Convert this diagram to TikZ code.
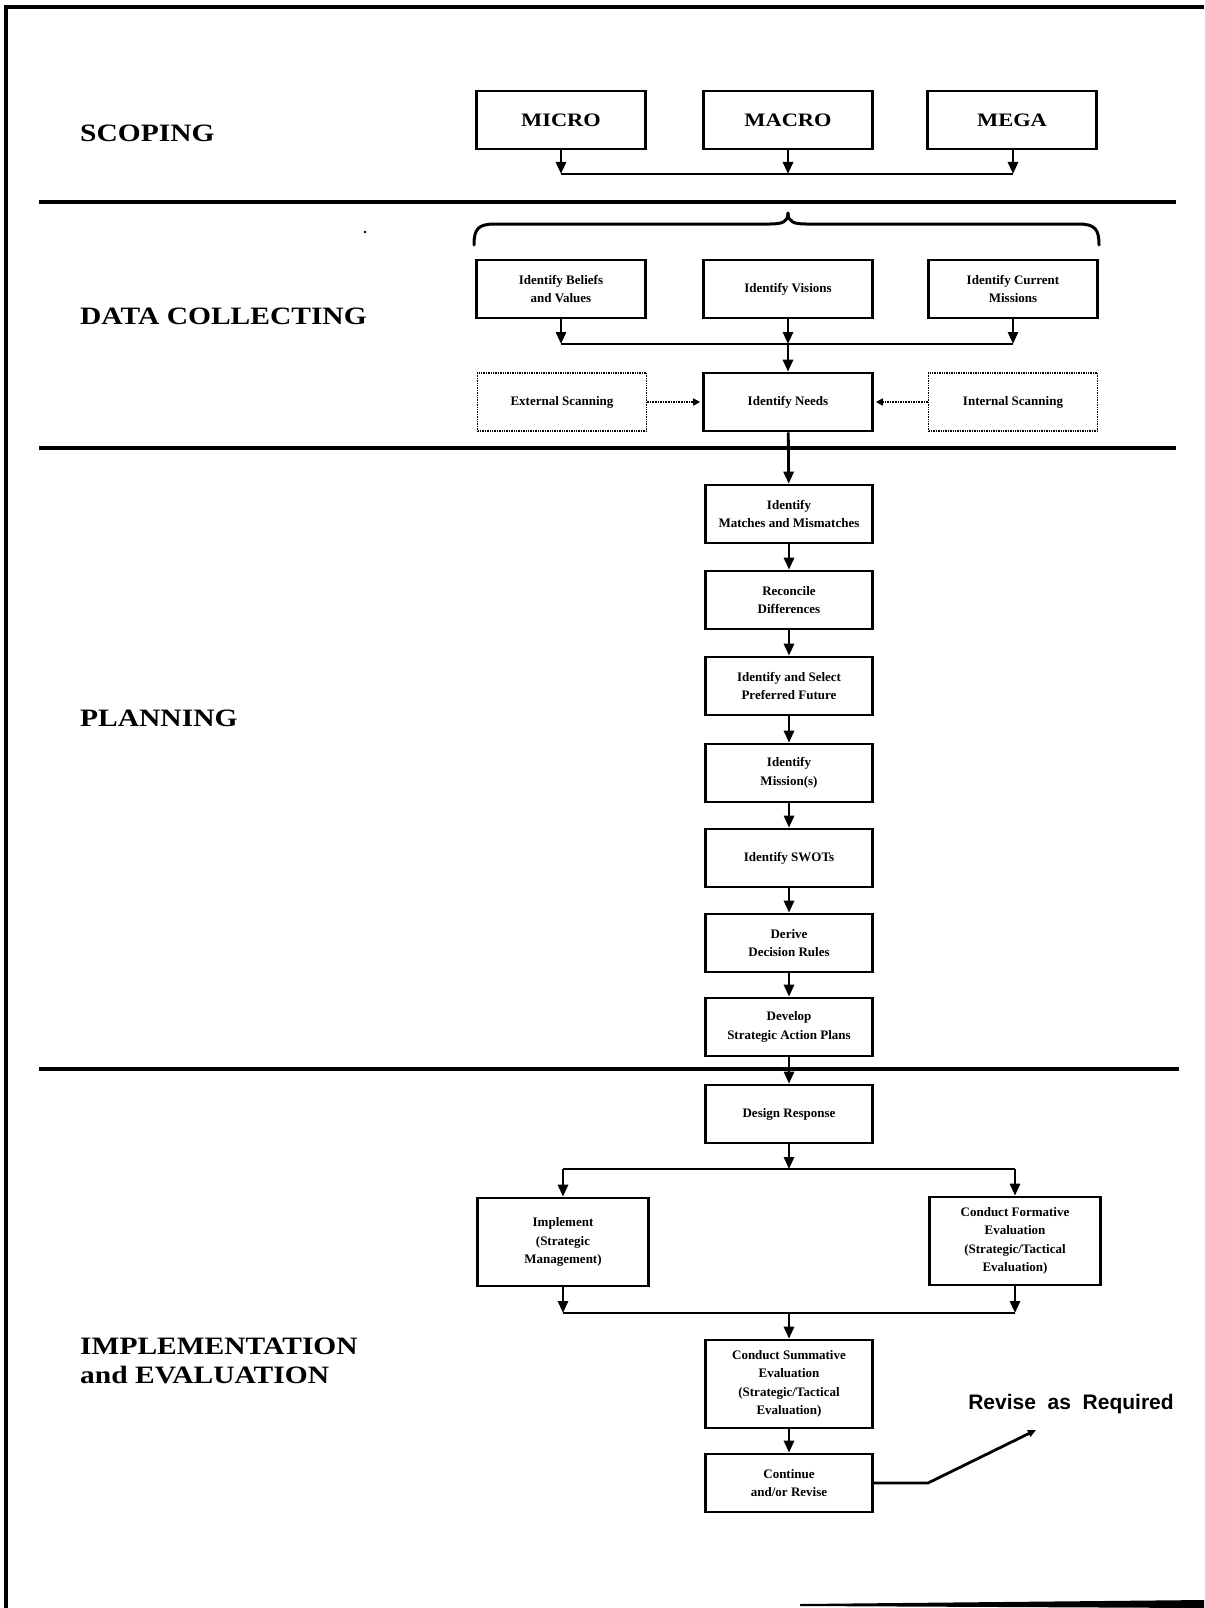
\documentclass[tikz,border=0pt]{standalone}
\usepackage{fontspec}
\newfontfamily\boxfont{Liberation Serif}
\newfontfamily\revfont{Liberation Sans}
\newfontfamily\phasefont{Liberation Serif}[FakeStretch=1.18]
\usetikzlibrary{arrows.meta}
\tikzset{
  box/.style={draw, line width=2.6pt, minimum width=169pt, minimum height=58pt, inner sep=2pt, align=center,
    font=\boxfont\bfseries\fontsize{13}{18.5}\selectfont},
  tallbox/.style={box, minimum height=88pt},
  scanbox/.style={box, line width=1.4pt, densely dotted},
  topbox/.style={box, font=\phasefont\bfseries\fontsize{19}{22}\selectfont},
  conn/.style={line width=2.8pt},
  arr/.style={conn, -{Triangle[width=10pt,length=12pt]}},
  dotarr/.style={line width=1.6pt, densely dotted, -{Triangle[width=7pt,length=7pt]}, shorten >=2pt},
  phase/.style={anchor=west, align=left, inner sep=0pt, font=\phasefont\bfseries\fontsize{25}{29.5}\selectfont},
  divider/.style={line width=3.2pt},
}
\begin{document}
\begin{tikzpicture}[x=1pt,y=-1pt]
\useasboundingbox (0,0) rectangle (1204,1608);
% frame
\draw[line width=3.5pt] (6,1608) -- (6,7) -- (1204,7);
\fill (800,1604) -- (1204,1600) -- (1204,1608) -- (800,1606) -- cycle;
% dividers
\draw[divider] (39,202) -- (1176,202);
\draw[divider] (39,448) -- (1176,448);
\draw[divider] (39,1069) -- (1179,1069);
% phase labels
\node[phase] (lscope) at (80,133) {SCOPING};
\node[phase] (ldata) at (80,316) {DATA COLLECTING};
\node[phase] (lplan) at (80,718) {PLANNING};
\node[phase] (limpl) at (80,1361) {IMPLEMENTATION\\and EVALUATION};
\fill (365,232) circle (1.3pt);
% scoping
\node[topbox] (micro) at (561,120) {MICRO};
\node[topbox] (macro) at (788,120) {MACRO};
\node[topbox] (mega) at (1012,120) {MEGA};
\coordinate (sl) at (561,174);
\coordinate (sm) at (788,174);
\coordinate (sr) at (1013,174);
\draw[conn] (sl) -- (sr);
\draw[arr] (micro) -- (sl);
\draw[arr] (macro) -- (sm);
\draw[arr] (mega.south -| sr) -- (sr);
% brace
\draw[line width=3pt, line cap=round] (474,245) .. controls (474,229) and (478,224) .. (495,224) -- (770,224) .. controls (782,224) and (788,222) .. (788,213);
\draw[line width=3pt, line cap=round] (1099,245) .. controls (1099,229) and (1095,224) .. (1078,224) -- (806,224) .. controls (794,224) and (788,222) .. (788,213);
% data collecting
\node[box] (beliefs) at (561,289) {Identify Beliefs\\and Values};
\node[box] (visions) at (788,289) {Identify Visions};
\node[box] (missions) at (1013,289) {Identify Current\\Missions};
\coordinate (dl) at (561,344);
\coordinate (dm) at (788,344);
\coordinate (dr) at (1013,344);
\draw[conn] (dl) -- (dr);
\draw[arr] (beliefs) -- (dl);
\draw[arr] (visions) -- (dm);
\draw[arr] (missions) -- (dr);
\node[scanbox] (external) at (562,402) {External Scanning};
\node[box] (needs) at (788,402) {Identify Needs};
\node[scanbox] (internal) at (1013,402) {Internal Scanning};
\draw[arr] (dm) -- (needs);
\draw[dotarr] (external) -- (needs);
\draw[dotarr] (internal) -- (needs);
% planning
\node[box, minimum width=167pt] (matches) at (789,514) {Identify\\Matches and Mismatches};
\node[box, minimum width=167pt] (reconcile) at (789,600) {Reconcile\\Differences};
\node[box, minimum width=167pt] (select) at (789,686) {Identify and Select\\Preferred Future};
\node[box, minimum width=167pt] (mission) at (789,773) {Identify\\Mission(s)};
\node[box, minimum width=167pt] (swots) at (789,858) {Identify SWOTs};
\node[box, minimum width=167pt] (derive) at (789,943) {Derive\\Decision Rules};
\node[box, minimum width=167pt] (develop) at (789,1027) {Develop\\Strategic Action Plans};
\draw[arr] (needs) -- (matches);
\draw[arr] (matches) -- (reconcile);
\draw[arr] (reconcile) -- (select);
\draw[arr] (select) -- (mission);
\draw[arr] (mission) -- (swots);
\draw[arr] (swots) -- (derive);
\draw[arr] (derive) -- (develop);
% implementation and evaluation
\node[box, minimum width=167pt] (design) at (789,1114) {Design Response};
\draw[arr] (develop) -- (design);
\coordinate (bl) at (563,1169);
\coordinate (bm) at (789,1169);
\coordinate (br) at (1015,1169);
\draw[conn] (bl) -- (br);
\draw[arr] (design) -- (bm);
\node[tallbox, minimum width=171pt] (implement) at (563,1242) {Implement\\(Strategic\\Management)};
\node[tallbox, minimum width=171pt] (formative) at (1015,1241) {Conduct Formative\\Evaluation\\(Strategic/Tactical\\Evaluation)};
\draw[arr] (bl) -- (implement);
\draw[arr] (br) -- (formative);
\coordinate (jl) at (563,1313);
\coordinate (jm) at (789,1313);
\coordinate (jr) at (1015,1313);
\draw[conn] (jl) -- (jr);
\draw[arr] (implement) -- (jl);
\draw[arr] (formative) -- (jr);
\node[tallbox, minimum width=167pt] (summative) at (789,1384) {Conduct Summative\\Evaluation\\(Strategic/Tactical\\Evaluation)};
\draw[arr] (jm) -- (summative);
\node[box, minimum width=167pt] (continue) at (789,1483) {Continue\\and/or Revise};
\draw[arr] (summative) -- (continue);
\node[font=\revfont\bfseries\fontsize{21}{24}\selectfont, inner sep=0pt] (revise) at (1071,1404) {Revise\ \ as\ \ Required};
\coordinate (rv) at (1036,1430);
\draw[line width=2.8pt, -{Triangle[width=7pt,length=8pt]}] (continue.east) -- (928,1483) -- (rv);
\end{tikzpicture}
\end{document}
